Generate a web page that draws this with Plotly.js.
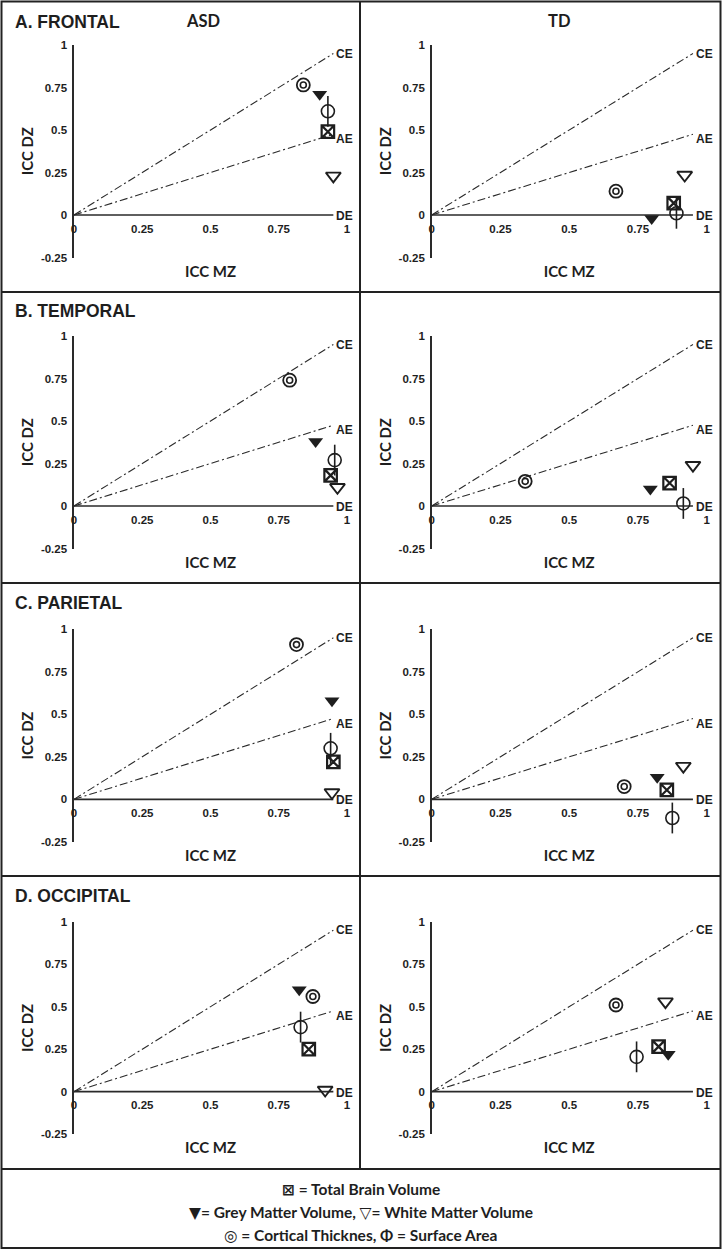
<!DOCTYPE html>
<html><head><meta charset="utf-8">
<script src="https://cdn.plot.ly/plotly-3.0.1.min.js"></script>
<style>html,body{margin:0;padding:0;background:#fff}</style>
</head><body><div id="chart" style="width:722px;height:1251px"></div>
<script>
// ---- data ----
const regionTitles = ['A. FRONTAL', 'B. TEMPORAL', 'C. PARIETAL', 'D. OCCIPITAL'];
const groupTitles = ['ASD', 'TD'];
const measures = ['Total Brain Volume', 'Grey Matter Volume', 'White Matter Volume', 'Cortical Thicknes', 'Surface Area'];
const measureGlyphs = ['\u22A0', '\u25BC', '\u25BD', '\u25CE', '\u03A6'];

// order of values: TBV, GMV, WMV, CT, SA
const frontalAsdMZ = [0.93, 0.90, 0.95, 0.84, 0.93];
const frontalAsdDZ = [0.49, 0.71, 0.23, 0.765, 0.61];
const frontalTdMZ = [0.88, 0.80, 0.92, 0.67, 0.89];
const frontalTdDZ = [0.07, -0.02, 0.235, 0.14, 0.01];
const temporalAsdMZ = [0.94, 0.885, 0.965, 0.79, 0.955];
const temporalAsdDZ = [0.18, 0.38, 0.11, 0.74, 0.27];
const temporalTdMZ = [0.865, 0.795, 0.95, 0.34, 0.915];
const temporalTdDZ = [0.135, 0.10, 0.24, 0.145, 0.015];
const parietalAsdMZ = [0.95, 0.945, 0.945, 0.815, 0.94];
const parietalAsdDZ = [0.22, 0.58, 0.04, 0.91, 0.30];
const parietalTdMZ = [0.855, 0.82, 0.915, 0.70, 0.875];
const parietalTdDZ = [0.055, 0.13, 0.195, 0.075, -0.11];
const occipitalAsdMZ = [0.86, 0.825, 0.92, 0.875, 0.83];
const occipitalAsdDZ = [0.25, 0.60, 0.01, 0.56, 0.38];
const occipitalTdMZ = [0.825, 0.86, 0.85, 0.67, 0.745];
const occipitalTdDZ = [0.265, 0.22, 0.53, 0.51, 0.205];

// reference model lines (ICC MZ vs ICC DZ)
const modelNames = ['CE', 'AE', 'DE'];
const modelMZ = [[0, 0.95], [0, 0.95], [0, 0.95]];
const modelDZ = [[0, 0.95], [0, 0.475], [0, 0]];

const xTickVals = [0, 0.25, 0.5, 0.75, 1];
const xTickText = ['0', '0.25', '0.5', '0.75', '1'];
const yTickVals = [-0.25, 0, 0.25, 0.5, 0.75, 1];
const yTickText = ['-0.25', '0', '0.25', '0.5', '0.75', '1'];

const panels = [
  [frontalAsdMZ, frontalAsdDZ], [frontalTdMZ, frontalTdDZ],
  [temporalAsdMZ, temporalAsdDZ], [temporalTdMZ, temporalTdDZ],
  [parietalAsdMZ, parietalAsdDZ], [parietalTdMZ, parietalTdDZ],
  [occipitalAsdMZ, occipitalAsdDZ], [occipitalTdMZ, occipitalTdDZ]
];

// ---- layout geometry (pixels) ----
const W = 722, H = 1251;
const rowZero = [215, 506, 799.3, 1091.7];
const rowTop = [2, 292, 583, 876];
const colZero = [74, 431.7];
const colOne = [347, 706.7];
const pxPerUnit = 170;
const px = v => v / W;
const py = v => 1 - v / H;

const ink = '#1e1e1e';
const tickFont = {family: 'Liberation Sans, Arial, sans-serif', size: 11.5, color: ink, weight: 'bold'};
const titleFont = {family: 'Lato, sans-serif', size: 15, color: ink, weight: 'bold'};

const markerStyles = [
  [{symbol: 'square-x-open', size: 12.5, line: {width: 2.2, color: ink}}],
  [{symbol: 'triangle-down', size: 13, color: ink, line: {width: 0}}],
  [{symbol: 'triangle-down-open', size: 13, line: {width: 1.9, color: ink}}],
  [{symbol: 'circle-open', size: 13, line: {width: 1.8, color: ink}},
   {symbol: 'circle-open', size: 6, line: {width: 1.6, color: ink}}],
  [{symbol: 'line-ns-open', size: 22, line: {width: 1.6, color: ink}},
   {symbol: 'circle-open', size: 13, line: {width: 1.6, color: ink}}]
];
const modelDash = ['8px,3px,2px,3px', '8px,3px,2px,3px', 'solid'];
const modelWidth = [1.1, 1.1, 1.7];
const modelLabelShift = [0, -5, -1];

const traces = [];
const layout = {
  width: W, height: H, margin: {l: 0, r: 0, t: 0, b: 0},
  paper_bgcolor: '#fff', plot_bgcolor: 'rgba(0,0,0,0)',
  showlegend: false, annotations: [], shapes: []
};

panels.forEach((p, i) => {
  const r = Math.floor(i / 2), c = i % 2, n = i + 1;
  const xa = n === 1 ? 'x' : 'x' + n, ya = n === 1 ? 'y' : 'y' + n;
  const y0 = rowZero[r];
  layout[n === 1 ? 'xaxis' : 'xaxis' + n] = {
    domain: [px(colZero[c]), px(colOne[c])], range: [0, 1],
    anchor: 'free', position: py(y0),
    showline: false, zeroline: false, showgrid: false, ticks: '',
    tickvals: xTickVals, ticktext: xTickText, tickfont: tickFont,
    ticklabelstandoff: 5, automargin: false, fixedrange: true,
    title: {text: 'ICC MZ', font: titleFont, standoff: 32}
  };
  layout[n === 1 ? 'yaxis' : 'yaxis' + n] = {
    domain: [py(y0 + 0.25 * pxPerUnit), py(y0 - pxPerUnit)], range: [-0.25, 1],
    anchor: xa, showline: true, linecolor: '#2a2a2a', linewidth: 1.6,
    zeroline: false, showgrid: false, ticks: '',
    tickvals: yTickVals, ticktext: yTickText, tickfont: tickFont,
    ticklabelstandoff: 3, automargin: false, fixedrange: true,
    title: {text: 'ICC DZ', font: titleFont}
  };
  modelNames.forEach((m, k) => {
    traces.push({
      type: 'scatter', mode: 'lines', x: modelMZ[k], y: modelDZ[k], xaxis: xa, yaxis: ya,
      line: {color: '#2a2a2a', width: modelWidth[k], dash: modelDash[k]},
      hoverinfo: 'skip', cliponaxis: false, name: m
    });
    layout.annotations.push({
      x: modelMZ[k][1], y: modelDZ[k][1], xref: xa, yref: ya,
      text: m, showarrow: false, xanchor: 'left', yanchor: 'middle',
      xshift: 1, yshift: modelLabelShift[k],
      font: {family: 'Liberation Sans, Arial, sans-serif', size: 12, color: ink, weight: 'bold'}
    });
  });
  measures.forEach((name, k) => {
    markerStyles[k].forEach(ms => {
      traces.push({
        type: 'scatter', mode: 'markers', x: [p[0][k]], y: [p[1][k]], xaxis: xa, yaxis: ya,
        marker: Object.assign({color: ink}, ms), cliponaxis: false, name: name
      });
    });
  });
});

// panel titles
regionTitles.forEach((t, r) => {
  layout.annotations.push({
    x: px(13), y: py(rowTop[r] + 19.5), xref: 'paper', yref: 'paper',
    text: t, showarrow: false, xanchor: 'left', yanchor: 'middle',
    font: {family: 'Liberation Sans, Arial, sans-serif', size: 17.5, color: ink, weight: 'bold'}
  });
});
const groupX = [203, 559];
groupTitles.forEach((g, c) => {
  layout.annotations.push({
    x: px(groupX[c]), y: py(21), xref: 'paper', yref: 'paper',
    text: g, showarrow: false, xanchor: 'center', yanchor: 'middle',
    font: {family: 'Lato, sans-serif', size: 16.5, color: ink, weight: 'bold'}
  });
});

// legend box text
const legendLines = [
  measureGlyphs[0] + ' = ' + measures[0],
  measureGlyphs[1] + '= ' + measures[1] + ', ' + measureGlyphs[2] + '= ' + measures[2],
  measureGlyphs[3] + ' = ' + measures[3] + ', ' + measureGlyphs[4] + ' = ' + measures[4]
];
const legendY = [1189, 1212, 1235];
legendLines.forEach((t, k) => {
  layout.annotations.push({
    x: px(361), y: py(legendY[k]), xref: 'paper', yref: 'paper',
    text: t, showarrow: false, xanchor: 'center', yanchor: 'middle',
    font: {family: 'Lato, DejaVu Sans, sans-serif', size: 15.5, color: ink, weight: 'bold'}
  });
});

// borders
const bc = '#222', bw = 2;
layout.shapes.push({type: 'rect', xref: 'paper', yref: 'paper',
  x0: px(1.5), x1: px(720.5), y0: py(1.5), y1: py(1248), line: {color: bc, width: bw}});
[292, 583, 876, 1169].forEach(yy => layout.shapes.push({type: 'line', xref: 'paper', yref: 'paper',
  x0: px(1.5), x1: px(720.5), y0: py(yy), y1: py(yy), line: {color: bc, width: bw}}));
layout.shapes.push({type: 'line', xref: 'paper', yref: 'paper',
  x0: px(360), x1: px(360), y0: py(1.5), y1: py(1169), line: {color: bc, width: bw}});

Plotly.newPlot('chart', traces, layout, {displayModeBar: false, staticPlot: true});
</script>
</body></html>
